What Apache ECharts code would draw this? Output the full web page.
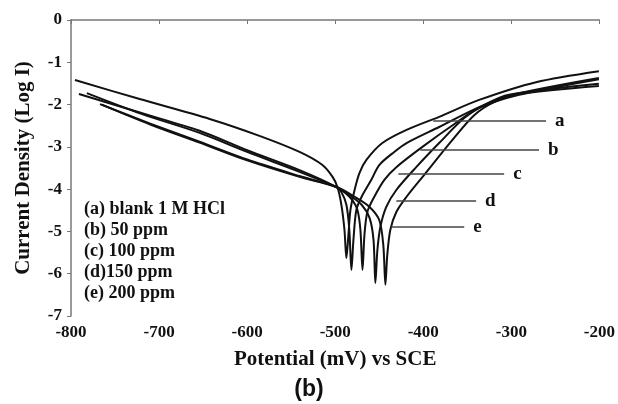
<!DOCTYPE html>
<html>
<head>
<meta charset="utf-8">
<script src="https://cdn.jsdelivr.net/npm/echarts@6/dist/echarts.min.js"></script>
<style>
html,body{margin:0;padding:0;background:#fff;}
#main{width:618px;height:404px;}
</style>
</head>
<body>
<div id="main"></div>
<script>
// curves: [potential mV, log I]
var curveA = [[-795.5,-1.42],[-722,-1.87],[-642.5,-2.34],[-586,-2.74],[-540.5,-3.12],[-514.5,-3.43],[-503,-3.71],[-497.5,-3.95],[-493,-4.37],[-489.5,-4.96],[-487.3,-5.63],[-485,-5.08],[-482.7,-4.49],[-478,-4.02],[-472.5,-3.62],[-464.6,-3.31],[-446.5,-2.91],[-419,-2.6],[-382,-2.29],[-336.6,-1.89],[-272,-1.47],[-200.6,-1.21]];
var curveB = [[-791,-1.75],[-720,-2.2],[-654,-2.62],[-600,-3.08],[-540.5,-3.55],[-498.6,-3.95],[-493,-4.07],[-487.3,-4.37],[-484,-4.96],[-481.6,-5.91],[-479.3,-5.2],[-476,-4.49],[-470,-4.18],[-459,-3.78],[-450,-3.43],[-433,-3.12],[-419,-2.91],[-382,-2.53],[-336.6,-2.06],[-299,-1.77],[-200.6,-1.37]];
var curveC = [[-782,-1.73],[-720,-2.22],[-654,-2.67],[-600,-3.12],[-540.5,-3.59],[-498.6,-3.95],[-489.5,-4.07],[-480.5,-4.26],[-474.8,-4.49],[-471.4,-4.96],[-469,-5.91],[-466.8,-5.08],[-463.5,-4.54],[-455.6,-4.18],[-444.2,-3.78],[-430.6,-3.48],[-401,-3.0],[-362.6,-2.43],[-336.6,-2.08],[-291.2,-1.77],[-200.6,-1.4]];
var curveD = [[-767,-1.99],[-710,-2.45],[-654,-2.88],[-600,-3.3],[-540.5,-3.69],[-498.6,-3.95],[-484,-4.14],[-470,-4.37],[-461,-4.68],[-456.5,-5.2],[-454.4,-6.22],[-452.1,-5.44],[-448.7,-4.89],[-442,-4.42],[-430.6,-4.02],[-408,-3.48],[-382,-2.91],[-353.5,-2.32],[-328.6,-1.99],[-302.6,-1.77],[-200.6,-1.51]];
var curveE = [[-765,-2.0],[-710,-2.47],[-654,-2.9],[-600,-3.32],[-540.5,-3.71],[-498.6,-3.95],[-478,-4.18],[-461,-4.42],[-450,-4.73],[-445.4,-5.32],[-443,-6.26],[-440.9,-5.56],[-437.4,-4.96],[-430.6,-4.54],[-419,-4.18],[-398.9,-3.66],[-367.1,-2.84],[-342.2,-2.25],[-319.6,-1.94],[-291.2,-1.75],[-200.6,-1.56]];
var curveNames = ['a','b','c','d','e'];
var legendLines = ['(a) blank 1 M HCl','(b) 50 ppm','(c) 100 ppm','(d)150 ppm','(e) 200 ppm'];

var serif = '"Liberation Serif","Times New Roman",serif';
var myChart = echarts.init(document.getElementById('main'));

function curve(name, data, lead){
	return {
		name: name,
		type: 'line',
		data: data,
		showSymbol: false,
		smooth: 0.3,
		lineStyle: {color: '#111', width: 2},
		z: 3,
		markLine: {
			symbol: 'none',
			silent: true,
			lineStyle: {color: '#444', width: 1.5, type: 'solid'},
			label: {
				show: true, position: 'end', distance: 9,
				formatter: name,
				fontFamily: serif, fontWeight: 'bold', fontSize: 19, color: '#111'
			},
			data: [[{coord: lead[0]}, {coord: lead[1]}]]
		}
	};
}

var legendGraphic = [];
for (var i in legendLines) {
	legendGraphic.push({
		type: 'text',
		left: 84,
		top: 200 + i * 21,
		style: {text: legendLines[i], font: 'bold 18px ' + serif, fill: '#111'}
	});
}
legendGraphic.push({
	type: 'text',
	left: 'center',
	top: 378,
	style: {text: '(b)', font: 'bold 23px "Liberation Sans",Arial,sans-serif', fill: '#111'}
});

var option = {
	animation: false,
	grid: {left: 71, right: 18, top: 20, bottom: 88},
	xAxis: {
		type: 'value', min: -800, max: -200, interval: 100,
		name: 'Potential (mV) vs SCE', nameLocation: 'middle', nameGap: 33,
		nameTextStyle: {fontFamily: serif, fontWeight: 'bold', fontSize: 21, color: '#111'},
		axisLine: {lineStyle: {color: '#777', width: 1.5}},
		axisTick: {show: true, length: 4, lineStyle: {color: '#777'}},
		axisLabel: {fontFamily: serif, fontWeight: 'bold', fontSize: 17, color: '#111', margin: 8},
		splitLine: {show: false}
	},
	yAxis: {
		type: 'value', min: -7, max: 0, interval: 1,
		name: 'Current Density (Log I)', nameLocation: 'middle', nameGap: 37,
		nameTextStyle: {fontFamily: serif, fontWeight: 'bold', fontSize: 21, color: '#111'},
		axisLine: {show: true, lineStyle: {color: '#777', width: 1.5}},
		axisTick: {show: true, length: 4, lineStyle: {color: '#777'}},
		axisLabel: {fontFamily: serif, fontWeight: 'bold', fontSize: 17, color: '#111', margin: 9},
		splitLine: {show: false}
	},
	series: [
		curve('a', curveA, [[-388.7,-2.39],[-260.6,-2.39]]),
		curve('b', curveB, [[-403.4,-3.07],[-268.6,-3.07]]),
		curve('c', curveC, [[-428.3,-3.64],[-308.2,-3.64]]),
		curve('d', curveD, [[-430.6,-4.28],[-340,-4.28]]),
		curve('e', curveE, [[-436.3,-4.89],[-353.5,-4.89]])
	],
	graphic: legendGraphic
};
myChart.setOption(option);
</script>
</body>
</html>
